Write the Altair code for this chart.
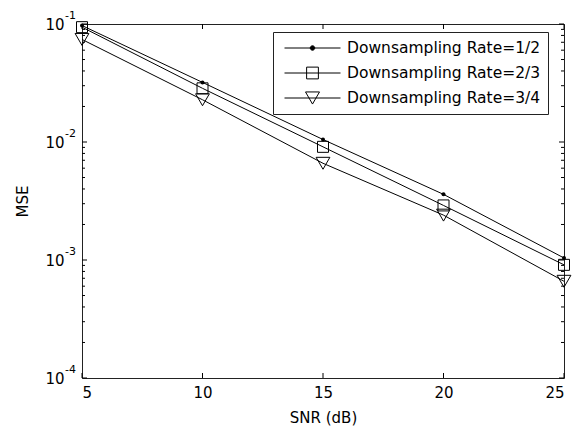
import altair as alt
import pandas as pd

# ---- data ----
snr = [5, 10, 15, 20, 25]
mse_rate_12 = [0.097, 0.032, 0.0105, 0.0036, 0.00104]
mse_rate_23 = [0.094, 0.0285, 0.0091, 0.0029, 0.00091]
mse_rate_34 = [0.074, 0.0228, 0.0066, 0.0024, 0.00066]
series_names = ["Downsampling Rate=1/2", "Downsampling Rate=2/3", "Downsampling Rate=3/4"]

x_ticks = [5, 10, 15, 20, 25]
y_major = [1e-4, 1e-3, 1e-2, 1e-1]
y_exponents = ["-4", "-3", "-2", "-1"]
y_minor = [2e-4, 3e-4, 4e-4, 5e-4, 6e-4, 7e-4, 8e-4, 9e-4,
           2e-3, 3e-3, 4e-3, 5e-3, 6e-3, 7e-3, 8e-3, 9e-3,
           2e-2, 3e-2, 4e-2, 5e-2, 6e-2, 7e-2, 8e-2, 9e-2]

W, H = 482, 354
FONT = "DejaVu Sans"

rows = []
for name, vals in zip(series_names, [mse_rate_12, mse_rate_23, mse_rate_34]):
    for s, m in zip(snr, vals):
        rows.append({"snr": s, "mse": m, "series": name})
df = pd.DataFrame(rows)

xscale = alt.Scale(domain=[5, 25], nice=False, zero=False)
yscale = alt.Scale(type="log", domain=[1e-4, 1e-1], nice=False)

xaxis = alt.Axis(values=x_ticks, ticks=False, domain=False, grid=False,
                 labelPadding=7, labelFontSize=15, labelFont=FONT, labelColor="black",
                 title="SNR (dB)", titleFont=FONT, titleFontSize=15, titleFontWeight="normal",
                 titleColor="black", titleY=39, titleBaseline="middle")
yaxis = alt.Axis(values=y_major, labelExpr="'10'", ticks=False, domain=False, grid=False,
                 labelPadding=18, labelFontSize=15, labelFont=FONT, labelColor="black",
                 labelBaseline="middle",
                 title="MSE", titleFont=FONT, titleFontSize=15, titleFontWeight="normal",
                 titleColor="black", titleX=-60, titleY=H / 2, titleAngle=270,
                 titleAlign="center", titleBaseline="middle")

X = alt.X("snr:Q", scale=xscale, axis=xaxis)
Y = alt.Y("mse:Q", scale=yscale, axis=yaxis)

base = alt.Chart(df)

lines = base.mark_line(color="black", strokeWidth=1).encode(x=X, y=Y, detail="series:N")

dots = base.transform_filter(alt.datum.series == series_names[0]).mark_point(
    shape="circle", filled=True, size=16, color="black", opacity=1).encode(x=X, y=Y)
squares = base.transform_filter(alt.datum.series == series_names[1]).mark_point(
    shape="square", filled=False, size=121, color="black", strokeWidth=1, opacity=1).encode(x=X, y=Y)
triangles = base.transform_filter(alt.datum.series == series_names[2]).mark_point(
    shape="triangle-down", filled=False, size=190, color="black", strokeWidth=1, opacity=1).encode(x=X, y=Y)

# inward tick marks
xt = pd.DataFrame({"snr": x_ticks})
ymaj = pd.DataFrame({"mse": y_major})
ymin = pd.DataFrame({"mse": y_minor})
tick_style = dict(color="black", strokeWidth=1)
xt_bottom = alt.Chart(xt).mark_rule(**tick_style).encode(x=X, y=alt.value(H), y2=alt.value(H - 5))
xt_top = alt.Chart(xt).mark_rule(**tick_style).encode(x=X, y=alt.value(0), y2=alt.value(5))
yt_left = alt.Chart(ymaj).mark_rule(**tick_style).encode(y=Y, x=alt.value(0), x2=alt.value(5))
yt_right = alt.Chart(ymaj).mark_rule(**tick_style).encode(y=Y, x=alt.value(W), x2=alt.value(W - 5))
ym_left = alt.Chart(ymin).mark_rule(**tick_style).encode(y=Y, x=alt.value(0), x2=alt.value(3))
ym_right = alt.Chart(ymin).mark_rule(**tick_style).encode(y=Y, x=alt.value(W), x2=alt.value(W - 3))

# exponents of the y tick labels
exp_df = pd.DataFrame({"mse": y_major, "exp": y_exponents})
exps = alt.Chart(exp_df).mark_text(align="left", baseline="middle", dy=-8.5, fontSize=11,
                                    font=FONT, color="black").encode(
    y=Y, x=alt.value(-17), text="exp:N")

# legend (line + marker symbols)
legend_paths = [
    "M-1,0H1M-0.08,0A0.08,0.08,0,1,0,0.08,0A0.08,0.08,0,1,0,-0.08,0Z",
    "M-1,0H1M-0.21,-0.21H0.21V0.21H-0.21Z",
    "M-1,0H1M-0.25,-0.216H0.25L0,0.216Z",
]
leg = alt.Legend(title=None)
legend_layer = base.transform_filter("false").mark_point(
    filled=False, opacity=1, strokeWidth=1).encode(
    shape=alt.Shape("series:N", scale=alt.Scale(domain=series_names, range=legend_paths), legend=leg),
    fill=alt.Fill("series:N", scale=alt.Scale(domain=series_names,
                                              range=["black", "transparent", "transparent"]), legend=leg),
    stroke=alt.Stroke("series:N", scale=alt.Scale(domain=series_names,
                                                  range=["black", "black", "black"]), legend=leg),
)

chart = alt.layer(
    lines, dots, squares, triangles,
    xt_bottom, xt_top, yt_left, yt_right, ym_left, ym_right,
    exps, legend_layer,
).properties(
    width=W, height=H,
    autosize=alt.AutoSizeParams(type="none"),
    padding={"left": 82, "top": 24, "right": 14, "bottom": 49},
    background="white",
).configure_view(
    stroke="#222", strokeWidth=1
).configure_legend(
    orient="none", legendX=191, legendY=8,
    padding=7, symbolOffset=4, labelOffset=6,
    labelFont=FONT, labelFontSize=15.5, labelColor="black", labelLimit=400,
    strokeColor="#222", fillColor="white",
    symbolSize=3136, symbolStrokeWidth=1, symbolOpacity=1,
    clipHeight=18, rowPadding=7, cornerRadius=0,
)

chart.save("out.html", embed_options={"renderer": "svg", "actions": False})
